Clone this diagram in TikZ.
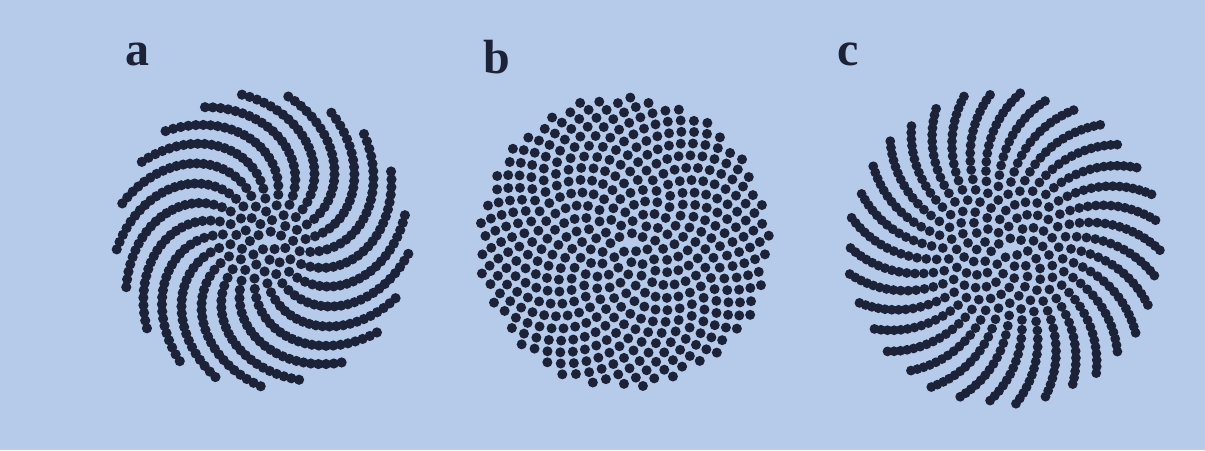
\documentclass[tikz,border=0pt]{standalone}
\usepackage{fontspec}
\setmainfont{Liberation Serif}
\definecolor{bg}{RGB}{182,202,234}
\definecolor{ink}{RGB}{28,34,56}
\tikzset{
  lbl/.style={font=\fontsize{48}{48}\selectfont\bfseries, text=ink, inner sep=0pt, anchor=base west},
}
% \phyllo{cx}{cy}{R}{N}{angle}{offset}{dot radius}
\newcommand{\phyllo}[7]{%
  \foreach \n in {1,...,#4}{%
    \fill[ink] (\fpeval{#1+#3*sqrt(\n/#4)*cosd(\n*#5+#6)},\fpeval{#2-#3*sqrt(\n/#4)*sind(\n*#5+#6)}) circle (#7pt);
  }%
}
\begin{document}
\begin{tikzpicture}[x=1pt,y=-1pt]
\fill[bg] (0,0) rectangle (1205,450);
\useasboundingbox (0,0) rectangle (1205,450);
\node[lbl] (la) at (125,65) {a};
\node[lbl] (lb) at (483,73) {b};
\node[lbl] (lc) at (837,65) {c};
\phyllo{263}{240}{147}{500}{137.28}{-4.5}{5.1}
\phyllo{624}{242}{146}{460}{137.5}{-5}{5.0}
\phyllo{1004}{248}{157}{560}{137.6}{4}{4.9}
\end{tikzpicture}
\end{document}
